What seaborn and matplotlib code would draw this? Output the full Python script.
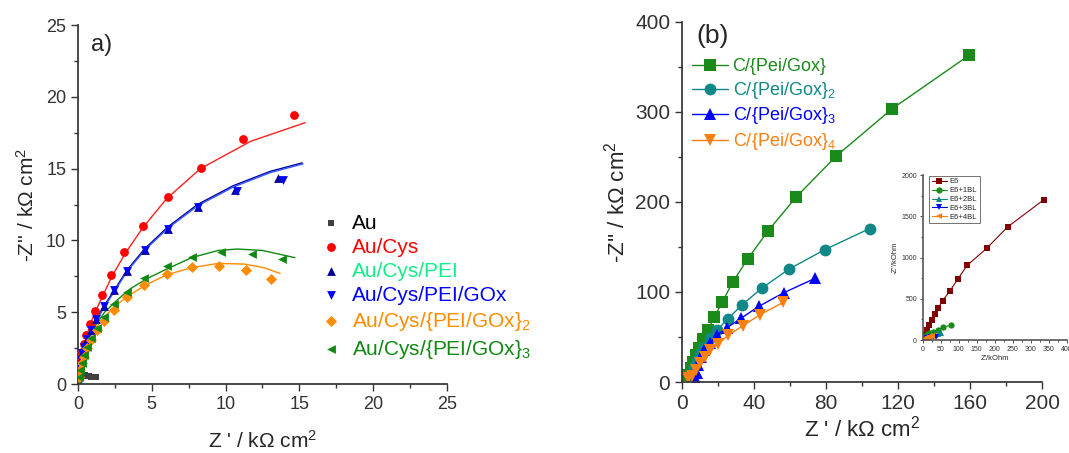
import numpy as np
import pandas as pd
import matplotlib
matplotlib.use("Agg")
import matplotlib.pyplot as plt
import seaborn as sns

# ---------------- Panel a) data ----------------
au_x = [0.45, 0.6, 0.75, 0.9, 1.05, 1.2]
au_y = [0.62, 0.58, 0.55, 0.52, 0.5, 0.48]

cys_x = [0.05, 0.1, 0.18, 0.27, 0.38, 0.54, 0.79, 1.15, 1.60, 2.23, 3.14, 4.38, 6.07, 8.31, 11.17, 14.63]
cys_y = [0.6, 1.2, 1.79, 2.25, 2.78, 3.41, 4.18, 5.06, 6.22, 7.59, 9.19, 11.0, 12.99, 15.06, 17.03, 18.72]

pei_x = [0.08, 0.13, 0.2, 0.29, 0.43, 0.61, 0.86, 1.24, 1.74, 2.44, 3.32, 4.51, 6.12, 8.13, 10.62, 13.55]
pei_y = [0.6, 1.15, 1.7, 2.13, 2.6, 3.11, 3.76, 4.52, 5.43, 6.54, 7.89, 9.33, 10.81, 12.34, 13.5, 14.35]

gox_x = [0.08, 0.13, 0.2, 0.29, 0.43, 0.61, 0.86, 1.24, 1.74, 2.44, 3.32, 4.51, 6.12, 8.13, 10.79, 13.86]
gox_y = [0.6, 1.15, 1.7, 2.13, 2.6, 3.11, 3.76, 4.52, 5.43, 6.54, 7.89, 9.33, 10.81, 12.34, 13.46, 14.2]

gox2_x = [0.09, 0.16, 0.25, 0.38, 0.61, 0.9, 1.29, 1.74, 2.42, 3.32, 4.49, 6.03, 7.72, 9.57, 11.4, 13.09]
gox2_y = [0.5, 0.97, 1.44, 1.9, 2.48, 3.06, 3.76, 4.41, 5.15, 6.08, 6.89, 7.63, 8.12, 8.21, 7.91, 7.29]

gox3_x = [0.09, 0.16, 0.25, 0.38, 0.61, 0.88, 1.29, 1.74, 2.42, 3.32, 4.49, 6.03, 7.72, 9.68, 11.78, 13.8]
gox3_y = [0.5, 0.97, 1.44, 2.02, 2.6, 3.18, 3.87, 4.69, 5.55, 6.43, 7.36, 8.21, 8.86, 9.16, 9.05, 8.68]

# fitted curves (panel a)
cys_fit_x = [0.12, 0.25, 0.4, 0.8, 1.2, 1.7, 2.3, 3.2, 4.4, 6.0, 8.3, 11.7, 15.4]
cys_fit_y = [0.0, 1.8, 2.6, 4.1, 5.1, 6.2, 7.5, 9.1, 10.9, 12.9, 15.0, 16.9, 18.2]
pei_fit_x = [0.22, 0.35, 0.5, 0.9, 1.3, 1.8, 2.5, 3.3, 4.5, 6.1, 8.1, 10.5, 13.0, 15.2]
pei_fit_y = [0.0, 1.8, 2.5, 3.7, 4.6, 5.5, 6.6, 7.9, 9.4, 10.95, 12.5, 13.8, 14.8, 15.4]
gox_fit_x = [0.25, 0.38, 0.53, 0.93, 1.33, 1.83, 2.53, 3.33, 4.53, 6.13, 8.13, 10.53, 13.03, 15.25]
gox_fit_y = [0.0, 1.75, 2.45, 3.65, 4.55, 5.45, 6.55, 7.85, 9.33, 10.88, 12.42, 13.72, 14.72, 15.33]
gox2_fit_x = [0.15, 0.35, 0.7, 1.2, 1.8, 2.6, 3.5, 4.6, 6.0, 7.7, 9.5, 11.3, 12.6, 13.7]
gox2_fit_y = [0.0, 1.9, 3.0, 3.9, 4.7, 5.5, 6.2, 6.9, 7.6, 8.1, 8.4, 8.35, 8.1, 7.7]
gox3_fit_x = [0.15, 0.35, 0.7, 1.2, 1.8, 2.6, 3.5, 4.6, 6.0, 7.7, 9.5, 10.8, 12.5, 14.7]
gox3_fit_y = [0.0, 2.0, 3.2, 4.1, 5.0, 5.8, 6.6, 7.3, 8.0, 8.8, 9.3, 9.4, 9.3, 8.8]

labels_a = ["Au", "Au/Cys", "Au/Cys/PEI", "Au/Cys/PEI/GOx",
            "Au/Cys/{PEI/GOx}$_2$", "Au/Cys/{PEI/GOx}$_3$"]

# ---------------- Panel b) data ----------------
b1_x = [3.5, 4.8, 6.3, 7.8, 9.6, 11.9, 14.5, 17.8, 22.4, 28.1, 36.5, 47.8, 63.5, 85.6, 116.7, 159.4]
b1_y = [7.8, 15.2, 22.6, 30.0, 38.2, 47.4, 57.8, 71.8, 88.9, 110.7, 136.7, 167.8, 205.5, 250.7, 303.3, 362.6]
b2_x = [5.4, 6.7, 8.1, 10.0, 12.4, 15.6, 19.7, 25.6, 33.3, 44.4, 59.3, 79.4, 104.3]
b2_y = [9.6, 17.0, 24.4, 31.9, 39.3, 48.5, 58.2, 70.3, 85.6, 104.3, 125.2, 147.0, 170.4]
b3_x = [7.8, 8.1, 9.1, 10.4, 12.4, 15.6, 19.6, 25.2, 32.7, 42.7, 56.7, 74.1]
b3_y = [2.2, 9.6, 18.9, 28.1, 35.6, 43.0, 52.2, 60.5, 70.7, 84.0, 99.3, 115.2]
b4_x = [3.5, 5.4, 7.8, 10.0, 12.8, 15.6, 20.2, 25.6, 33.6, 43.1, 56.3]
b4_y = [4.1, 6.7, 13.3, 20.7, 28.1, 35.6, 42.2, 51.8, 62.2, 74.4, 88.5]
labels_b = ["C/{Pei/Gox}", "C/{Pei/Gox}$_2$", "C/{Pei/Gox}$_3$", "C/{Pei/Gox}$_4$"]

# ---------------- Inset data ----------------
e6_x = [3.7, 7.4, 13, 18.5, 26, 34, 44, 55.5, 76, 98, 124, 178, 236, 337]
e6_y = [28, 69, 121, 182, 243, 312, 389, 477, 595, 741, 907, 1113, 1372, 1704]
e61_x = [2, 5, 9, 13, 18.5, 29.5, 42.5, 57, 78.6]
e61_y = [15, 35, 52, 68, 81, 101, 125, 153, 182]
e62_x = [2, 5, 9, 14, 20, 26, 34, 43, 52]
e62_y = [10, 22, 32, 42, 50, 56, 61, 70, 81]
e63_x = [2, 5, 9, 13, 18, 24, 30, 37]
e63_y = [6, 12, 18, 24, 29, 33, 37, 40]
e64_x = [1.5, 4, 7, 10, 14, 18, 22, 27]
e64_y = [6, 12, 19, 26, 33, 40, 46, 52]
labels_in = ["E6", "E6+1BL", "E6+2BL", "E6+3BL", "E6+4BL"]

# ---------------- styling ----------------
sns.set_theme(style="ticks")
plt.rcParams['font.family'] = ['Liberation Sans', 'DejaVu Sans']
plt.rcParams['mathtext.fontset'] = 'custom'
plt.rcParams['mathtext.rm'] = 'Liberation Sans'
plt.rcParams['mathtext.it'] = 'Liberation Sans:italic'
plt.rcParams['axes.edgecolor'] = '#333333'
plt.rcParams['xtick.color'] = '#333333'
plt.rcParams['ytick.color'] = '#333333'

fig = plt.figure(figsize=(10.69, 4.53), dpi=100)
axa = fig.add_axes([0.073, 0.1523, 0.345, 0.7925])
axb = fig.add_axes([0.638, 0.1567, 0.3368, 0.7955])
axi = fig.add_axes([0.863, 0.2494, 0.1347, 0.3636])

# ---- panel a ----
cols_a = ["#404040", "#ff0000", "#000099", "#0000ff", "#ff8c00", "#118811"]
text_cols_a = ["#000000", "#ff0000", "#11ee88", "#0000ff", "#ff8c00", "#118811"]
marks_a = ["s", "o", "^", "v", "D", "<"]
sizes_a = [22, 40, 40, 40, 32, 40]

xs_a = [au_x, cys_x, pei_x, gox_x, gox2_x, gox3_x]
ys_a = [au_y, cys_y, pei_y, gox_y, gox2_y, gox3_y]
df_a = pd.concat([pd.DataFrame({"x": x, "y": y, "s": lab})
                  for x, y, lab in zip(xs_a, ys_a, labels_a)], ignore_index=True)

fits = [(cys_fit_x, cys_fit_y, "#ff2020"), (pei_fit_x, pei_fit_y, "#000099"),
        (gox_fit_x, gox_fit_y, "#3355ff"), (gox2_fit_x, gox2_fit_y, "#ff8c00"),
        (gox3_fit_x, gox3_fit_y, "#118811")]
for fx, fy, c in fits:
    sns.lineplot(x=fx, y=fy, sort=False, estimator=None, color=c, lw=1.0, ax=axa, legend=False)

for lab, c, m, s in zip(labels_a, cols_a, marks_a, sizes_a):
    sub = df_a[df_a.s == lab]
    sns.scatterplot(data=sub, x="x", y="y", color=c, marker=m, s=s, linewidth=0,
                    ax=axa, label=lab, zorder=3)

axa.set_xlim(0, 25)
axa.set_ylim(0, 25)
axa.set_xticks(np.arange(0, 26, 5))
axa.set_yticks(np.arange(0, 26, 5))
axa.set_xticks(np.arange(0, 26, 2.5), minor=True)
axa.set_yticks(np.arange(0, 26, 2.5), minor=True)
axa.tick_params(which='major', length=5, width=1, labelsize=13, direction='out')
axa.tick_params(which='minor', length=3, width=1, direction='out')
axa.set_xlabel("Z ' / k\u03a9 cm$^2$", fontsize=15, labelpad=12)
axa.set_ylabel("-Z'' / k\u03a9 cm$^2$", fontsize=15, labelpad=6)
sns.despine(ax=axa)
axa.text(0.9, 23.6, "a)", fontsize=17, va='center', ha='left')

lega = axa.legend(loc='upper left', bbox_to_anchor=(0.29, 0.547), bbox_transform=fig.transFigure,
                  frameon=False, fontsize=15, handletextpad=0.4, labelspacing=0.24,
                  handlelength=1.2, borderaxespad=0)
for t, c in zip(lega.get_texts(), text_cols_a):
    t.set_color(c)

# ---- panel b ----
cols_b = ["#1a8a1a", "#108888", "#0000ff", "#ff7f0e"]
marks_b = ["s", "o", "^", "v"]
xs_b = [b1_x, b2_x, b3_x, b4_x]
ys_b = [b1_y, b2_y, b3_y, b4_y]
for x, y, lab, c, m in zip(xs_b, ys_b, labels_b, cols_b, marks_b):
    sns.lineplot(x=x, y=y, sort=False, estimator=None, color=c, marker=m, markersize=8.5,
                 markeredgewidth=0, lw=1.0, ax=axb, label=lab)
axb.set_xlim(0, 200)
axb.set_ylim(0, 400)
axb.set_xticks(np.arange(0, 201, 40))
axb.set_yticks(np.arange(0, 401, 100))
axb.set_xticks(np.arange(0, 201, 20), minor=True)
axb.set_yticks(np.arange(0, 401, 50), minor=True)
axb.tick_params(which='major', length=5, width=1, labelsize=15, direction='out')
axb.tick_params(which='minor', length=3, width=1, direction='out')
axb.set_xlabel("Z ' / k\u03a9 cm$^2$", fontsize=16, labelpad=2)
axb.set_ylabel("-Z'' / k\u03a9 cm$^2$", fontsize=16, labelpad=4)
sns.despine(ax=axb)
axb.text(8, 384, "(b)", fontsize=19, va='center', ha='left')
legb = axb.legend(loc='upper left', bbox_to_anchor=(0.6405, 0.887), bbox_transform=fig.transFigure,
                  frameon=False, fontsize=13, handletextpad=0.25, labelspacing=0.25,
                  handlelength=2.0, borderaxespad=0)
for t, c in zip(legb.get_texts(), cols_b):
    t.set_color(c)

# ---- inset ----
cols_in = ["#800000", "#1a8a1a", "#108888", "#0000ff", "#ff7f0e"]
marks_in = ["s", "o", "^", "v", "<"]
xs_in = [e6_x, e61_x, e62_x, e63_x, e64_x]
ys_in = [e6_y, e61_y, e62_y, e63_y, e64_y]
for x, y, lab, c, m in zip(xs_in, ys_in, labels_in, cols_in, marks_in):
    sns.lineplot(x=x, y=y, sort=False, estimator=None, color=c, marker=m, markersize=4.5,
                 markeredgewidth=0, lw=0.8, ax=axi, label=lab)
axi.set_xlim(0, 400)
axi.set_ylim(0, 2000)
axi.set_xticks(np.arange(0, 401, 50))
axi.set_yticks(np.arange(0, 2001, 500))
axi.set_xticks(np.arange(0, 401, 25), minor=True)
axi.set_yticks(np.arange(0, 2001, 250), minor=True)
axi.tick_params(which='major', length=2.5, width=0.6, labelsize=5, pad=1.5, direction='out')
axi.tick_params(which='minor', length=1.5, width=0.6, direction='out')
axi.set_xlabel("Z'/kOhm", fontsize=5.5, labelpad=2)
axi.set_ylabel("-Z''/kOhm", fontsize=5.5, labelpad=2)
axi.patch.set_alpha(0)
for sp in ["left", "bottom"]:
    axi.spines[sp].set_linewidth(1.2)
    axi.spines[sp].set_color('#555555')
sns.despine(ax=axi)
legi = axi.legend(loc='upper left', bbox_to_anchor=(0.02, 1.02), frameon=True, fontsize=5.5,
                  handlelength=2.0, handletextpad=0.4, labelspacing=0.2, borderpad=0.3,
                  fancybox=False, edgecolor='#333333')
legi.get_frame().set_linewidth(0.6)

fig.savefig("out.png", dpi=100)
